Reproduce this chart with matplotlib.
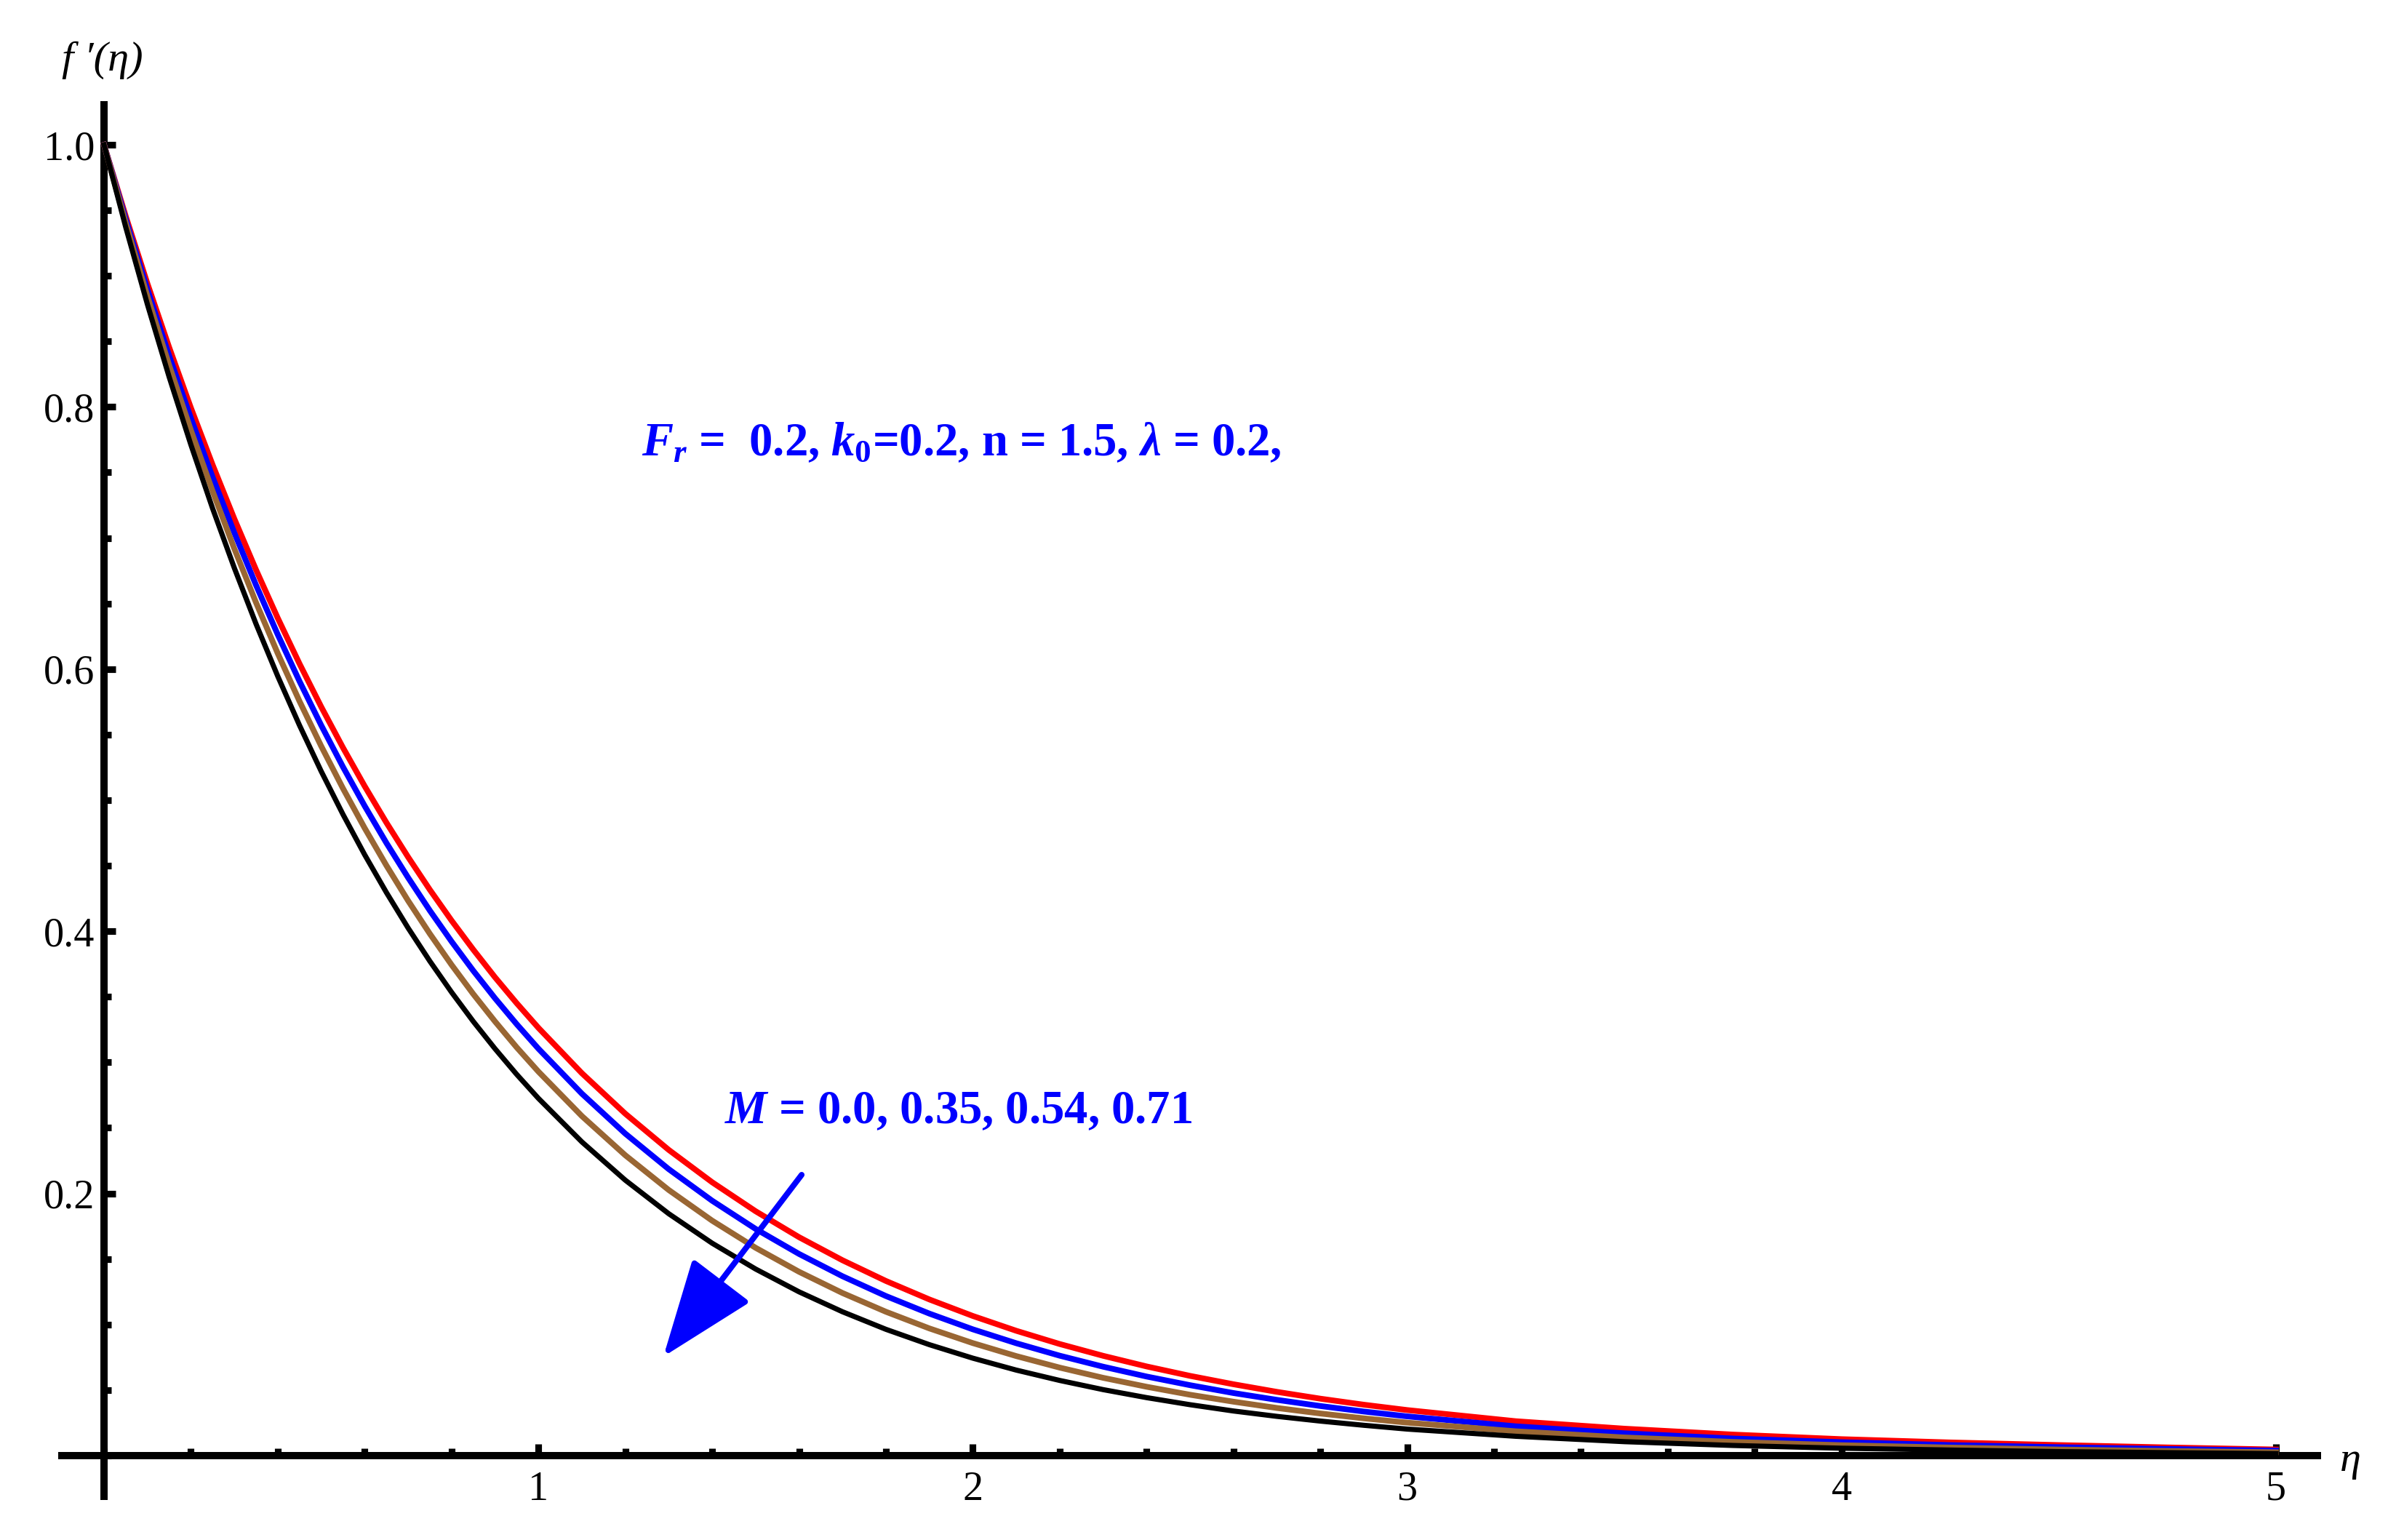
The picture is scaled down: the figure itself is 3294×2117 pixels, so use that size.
"""
Velocity profile f'(eta) for several magnetic parameter values M.
Mathematica-style axes crossing at the origin.
"""
import numpy as np
import matplotlib
matplotlib.use("Agg")
import matplotlib.pyplot as plt
from matplotlib.ticker import FixedLocator, MultipleLocator

plt.rcParams["font.family"] = ["Liberation Serif", "DejaVu Serif"]
plt.rcParams["mathtext.fontset"] = "custom"
plt.rcParams["mathtext.rm"] = "Liberation Serif:bold"
plt.rcParams["mathtext.it"] = "Liberation Serif:italic:bold"
plt.rcParams["mathtext.bf"] = "Liberation Serif:bold"

# ── Data ──────────────────────────────────────────────────────────────────────
eta = [0.0, 0.05, 0.1, 0.15, 0.2, 0.25, 0.3, 0.35, 0.4, 0.45, 0.5, 0.55, 0.6,
       0.65, 0.7, 0.75, 0.8, 0.85, 0.9, 0.95, 1.0,
       1.1, 1.2, 1.3, 1.4, 1.5, 1.6, 1.7, 1.8, 1.9, 2.0,
       2.1, 2.2, 2.3, 2.4, 2.5, 2.6, 2.7, 2.8, 2.9, 3.0,
       3.25, 3.5, 3.75, 4.0, 4.25, 4.5, 4.75, 5.0]

fp_M000 = [1.0, 0.9455, 0.894, 0.8454, 0.7993, 0.7558, 0.7146, 0.6757, 0.6389,
           0.6041, 0.5712, 0.5401, 0.5107, 0.4829, 0.4566, 0.4317, 0.4082,
           0.3860, 0.3649, 0.3451, 0.3263,
           0.2917, 0.2608, 0.2332, 0.2085, 0.1864, 0.1666, 0.1490, 0.1332,
           0.1191, 0.1065,
           0.0952, 0.0851, 0.0761, 0.0680, 0.0608, 0.0544, 0.0486, 0.0434,
           0.0388, 0.0347,
           0.0262, 0.0205, 0.0160, 0.0125, 0.0100, 0.0080, 0.0062, 0.0046]
fp_M035 = [1.0, 0.9432, 0.8896, 0.8390, 0.7914, 0.7464, 0.7040, 0.6640, 0.6263,
           0.5907, 0.5571, 0.5254, 0.4956, 0.4674, 0.4409, 0.4158, 0.3922,
           0.3699, 0.3489, 0.3291, 0.3104,
           0.2761, 0.2456, 0.2185, 0.1944, 0.1729, 0.1538, 0.1368, 0.1217,
           0.1083, 0.0963,
           0.0857, 0.0762, 0.0678, 0.0603, 0.0537, 0.0477, 0.0425, 0.0378,
           0.0336, 0.0299,
           0.0223, 0.0170, 0.0130, 0.0102, 0.0080, 0.0064, 0.0050, 0.0038]
fp_M054 = [1.0, 0.9404, 0.8844, 0.8318, 0.7822, 0.7357, 0.6918, 0.6507, 0.6119,
           0.5755, 0.5412, 0.5090, 0.4787, 0.4502, 0.4233, 0.3981, 0.3744,
           0.3521, 0.3312, 0.3114, 0.2929,
           0.2590, 0.2291, 0.2026, 0.1792, 0.1585, 0.1402, 0.1240, 0.1097,
           0.0970, 0.0858,
           0.0759, 0.0671, 0.0593, 0.0525, 0.0464, 0.0411, 0.0363, 0.0321,
           0.0284, 0.0251,
           0.0185, 0.0138, 0.0104, 0.0079, 0.0061, 0.0046, 0.0035, 0.0025]
fp_M071 = [1.0, 0.9371, 0.8781, 0.8228, 0.7711, 0.7225, 0.6771, 0.6344, 0.5945,
           0.5571, 0.5220, 0.4892, 0.4584, 0.4296, 0.4025, 0.3772, 0.3535,
           0.3312, 0.3104, 0.2908, 0.2725,
           0.2393, 0.2101, 0.1845, 0.1620, 0.1423, 0.1249, 0.1097, 0.0963,
           0.0846, 0.0743,
           0.0652, 0.0573, 0.0503, 0.0442, 0.0388, 0.0340, 0.0299, 0.0263,
           0.0231, 0.0202,
           0.0147, 0.0106, 0.0077, 0.0056, 0.0042, 0.0030, 0.0022, 0.0015]

series = [
    (fp_M000, "#FF0000", 1.9),
    (fp_M035, "#0000FF", 1.9),
    (fp_M054, "#996633", 1.9),
    (fp_M071, "#000000", 1.7),
]

x_major = [1, 2, 3, 4, 5]
y_major = [0.2, 0.4, 0.6, 0.8, 1.0]

# ── Figure ────────────────────────────────────────────────────────────────────
W, H, DPI = 3294, 2117, 300
fig = plt.figure(figsize=(W / DPI, H / DPI), dpi=DPI)
ax = fig.add_axes([80 / W, 1 - 2062 / H, (3191 - 80) / W, (2062 - 139) / H])

for vals, col, lw in series:
    ax.plot(eta, vals, color=col, lw=lw, zorder=3, solid_joinstyle="round")

ax.set_xlim(-0.1055, 5.1038)
ax.set_ylim(-0.0339, 1.0333)

# axes through the origin
for s in ["top", "right"]:
    ax.spines[s].set_visible(False)
for s in ["left", "bottom"]:
    ax.spines[s].set_position(("data", 0))
    ax.spines[s].set_linewidth(2.4)
    ax.spines[s].set_capstyle("butt")

ax.xaxis.set_major_locator(FixedLocator(x_major))
ax.xaxis.set_minor_locator(MultipleLocator(0.2))
ax.yaxis.set_major_locator(FixedLocator(y_major))
ax.yaxis.set_minor_locator(MultipleLocator(0.05))
ax.set_xticklabels([str(v) for v in x_major])
ax.set_yticklabels([f"{v:.1f}" for v in y_major])

ax.tick_params(which="both", direction="in", width=2.2, labelsize=13.5)
ax.tick_params(which="major", length=3.8)
ax.tick_params(which="minor", length=2.3)
ax.tick_params(axis="y", pad=3)
ax.tick_params(axis="x", pad=5)

# axis labels
fig.text(141 / W, 1 - 97 / H, "f \u2032(\u03b7)", fontsize=14, style="italic",
         ha="center", va="baseline")
fig.text(3231 / W, 1 - 2008 / H, "\u03b7", fontsize=14, style="italic",
         ha="center", va="center")

# annotations
ax.text(1.2375, 0.763, r"$F_r$ =  0.2, $k_0$=0.2, n = 1.5, $\lambda$ = 0.2,",
        color="#0000FF", fontsize=15.5, fontweight="bold", va="baseline")
ax.text(1.428, 0.2536, r"$M$ = 0.0, 0.35, 0.54, 0.71",
        color="#0000FF", fontsize=15.5, fontweight="bold", va="baseline")
ax.annotate("", xy=(1.2877, 0.0755), xytext=(1.606, 0.2142),
            arrowprops=dict(arrowstyle="-|>,head_length=28,head_width=10.5",
                            mutation_scale=1, color="#0000FF", lw=1.9,
                            shrinkA=0, shrinkB=0),
            zorder=5)

fig.savefig("out.png", dpi=DPI)
